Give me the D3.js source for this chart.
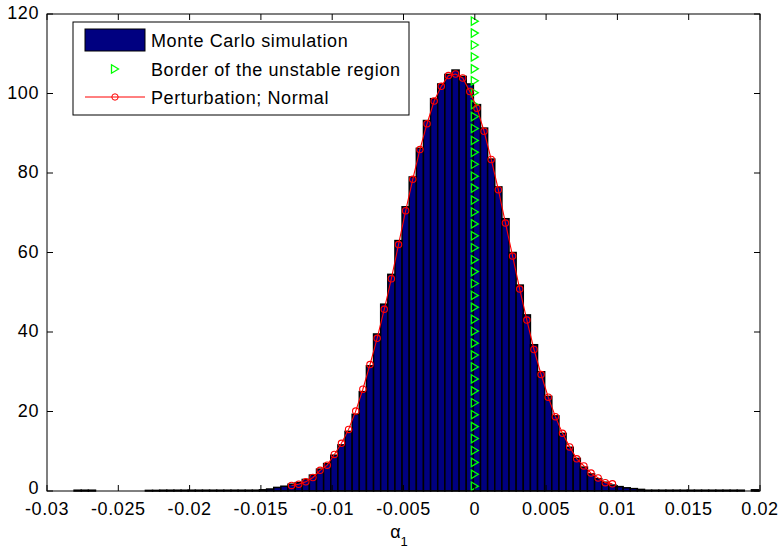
<!DOCTYPE html>
<html>
<head>
<meta charset="utf-8">
<script src="https://cdn.jsdelivr.net/npm/d3@7/dist/d3.min.js"></script>
<style>
  body { margin: 0; background: #fff; }
  text { font-family: "Liberation Sans", Arial, Helvetica, sans-serif; }
</style>
</head>
<body>
<svg id="chart" width="779" height="550"></svg>
<script>
// Histogram bins: width and centre of the first bin (-0.02785)
const binWidth = 0.0005;
const firstBinCenter = -0.02785;

// Monte Carlo histogram heights (probability density), one per bin
const mcDensity = [
  0.2, 0.2, 0.2, 0, 0, 0, 0, 0, 0, 0,
  0.15, 0.15, 0.2, 0.2, 0.2, 0.2, 0.2, 0.2, 0.2, 0.2,
  0.2, 0.2, 0.2, 0.2, 0.2, 0.2, 0.3, 0.5, 0.9, 1.2,
  1.7, 2.1, 2.9, 4.0, 5.5, 6.9, 9.0, 11.6, 15.0, 19.3,
  25.0, 31.5, 39.5, 47.0, 54.5, 63.0, 71.5, 79.0, 86.2, 93.2,
  98.7, 102.4, 104.8, 105.9, 104.3, 102.4, 97.2, 91.3, 83.5, 76.5,
  68.5, 60.0, 51.8, 44.3, 36.8, 30.0, 23.8, 18.9, 14.5, 11.0,
  8.2, 6.0, 4.3, 3.1, 2.2, 1.5, 1.1, 0.8, 0.6, 0.4,
  0.2, 0.2, 0.2, 0.2, 0.2, 0.2, 0.2, 0.2, 0.2, 0.2,
  0.2, 0.2, 0.2, 0.2, 0, 0.3
];

// Perturbation method (normal) density, evaluated at bins from -0.01285
const perturbStart = -0.01285;
const perturbDensity = [
  1.4, 1.7, 2.3, 3.4, 5.2, 6.5, 9.2, 12.0, 15.5, 20.1,
  25.6, 31.8, 38.4, 45.7, 53.4, 62.0, 70.5, 78.4, 85.9, 92.4,
  98.1, 101.8, 104.5, 104.9, 103.9, 100.5, 96.3, 90.5, 83.4, 75.8,
  67.4, 59.1, 50.8, 43.0, 35.6, 29.3, 23.6, 18.7, 14.5, 11.1,
  8.1, 6.3, 4.5, 3.3, 2.1, 1.8
];

// Border of the unstable region: alpha_1 = 0, marked along the y range
const borderAlpha = 0;
const borderLevels = [
  1.2, 4.2, 7.2, 10.2, 13.2, 16.2, 19.2, 22.2, 25.2, 28.2,
  31.2, 34.2, 37.2, 40.2, 43.2, 46.2, 49.2, 52.2, 55.2, 58.2,
  61.2, 64.2, 67.2, 70.2, 73.2, 76.2, 79.2, 82.2, 85.2, 88.2,
  91.2, 94.2, 97.2, 100.2, 103.2, 106.2, 109.2, 112.2, 115.2, 118.2
];

// Axis ticks and labels
const xTicks = [-0.03, -0.025, -0.02, -0.015, -0.01, -0.005, 0, 0.005, 0.01, 0.015, 0.02];
const xTickLabels = ["-0.03", "-0.025", "-0.02", "-0.015", "-0.01", "-0.005", "0", "0.005", "0.01", "0.015", "0.02"];
const yTicks = [0, 20, 40, 60, 80, 100, 120];
const yTickLabels = ["0", "20", "40", "60", "80", "100", "120"];

const legendLabels = ["Monte Carlo simulation", "Border of the unstable region", "Perturbation; Normal"];

const svg = d3.select("#chart");
const plot = { left: 47, right: 760, top: 14, bottom: 491 };

const x = d3.scaleLinear().domain([-0.03, 0.02]).range([plot.left, plot.right]);
const y = d3.scaleLinear().domain([0, 120]).range([plot.bottom, plot.top]);

const bins = mcDensity.map((v, i) => ({ c: firstBinCenter + i * binWidth, v }));
const curve = perturbDensity.map((v, i) => ({ c: perturbStart + i * binWidth, v }));

// Histogram bars
svg.append("g")
  .selectAll("rect")
  .data(bins.filter(d => d.v > 0))
  .join("rect")
  .attr("x", d => x(d.c - binWidth / 2))
  .attr("width", d => x(d.c + binWidth / 2) - x(d.c - binWidth / 2))
  .attr("y", d => y(d.v))
  .attr("height", d => y(0) - y(d.v))
  .attr("fill", "#000080")
  .attr("stroke", "#000")
  .attr("stroke-width", 1.5);

// Right-pointing triangle marker path centred on (0,0)
const tri = s => `M${-s * 0.5},${-s * 0.6}L${s * 0.5},0L${-s * 0.5},${s * 0.6}Z`;

// Unstable-region border markers
svg.append("g")
  .selectAll("path")
  .data(borderLevels)
  .join("path")
  .attr("transform", d => `translate(${x(borderAlpha)},${y(d)})`)
  .attr("d", tri(7))
  .attr("fill", "none")
  .attr("stroke", "#00ff00")
  .attr("stroke-width", 1.3);

// Perturbation curve with circle markers
const line = d3.line().x(d => x(d.c)).y(d => y(d.v));
svg.append("path")
  .datum(curve)
  .attr("d", line)
  .attr("fill", "none")
  .attr("stroke", "#ff0000")
  .attr("stroke-width", 1.1);
svg.append("g")
  .selectAll("circle")
  .data(curve)
  .join("circle")
  .attr("cx", d => x(d.c))
  .attr("cy", d => y(d.v))
  .attr("r", 3.2)
  .attr("fill", "none")
  .attr("stroke", "#ff0000")
  .attr("stroke-width", 1.1);

// Axes box with inward ticks on all four sides
const axisG = svg.append("g");
axisG.append("rect")
  .attr("x", plot.left).attr("y", plot.top)
  .attr("width", plot.right - plot.left).attr("height", plot.bottom - plot.top)
  .attr("fill", "none").attr("stroke", "#000").attr("stroke-width", 1);

const tickLen = 6;
axisG.append("g").selectAll("line.xb").data(xTicks).join("line")
  .attr("x1", d => x(d)).attr("x2", d => x(d))
  .attr("y1", plot.bottom).attr("y2", plot.bottom - tickLen)
  .attr("stroke", "#000");
axisG.append("g").selectAll("line.xt").data(xTicks).join("line")
  .attr("x1", d => x(d)).attr("x2", d => x(d))
  .attr("y1", plot.top).attr("y2", plot.top + tickLen)
  .attr("stroke", "#000");
axisG.append("g").selectAll("line.yl").data(yTicks).join("line")
  .attr("x1", plot.left).attr("x2", plot.left + tickLen)
  .attr("y1", d => y(d)).attr("y2", d => y(d))
  .attr("stroke", "#000");
axisG.append("g").selectAll("line.yr").data(yTicks).join("line")
  .attr("x1", plot.right).attr("x2", plot.right - tickLen)
  .attr("y1", d => y(d)).attr("y2", d => y(d))
  .attr("stroke", "#000");

// Tick labels (the bottom y label is nudged up so it clears the x labels)
const fontSize = 18;
axisG.append("g").selectAll("text").data(xTicks).join("text")
  .attr("x", d => x(d))
  .attr("y", plot.bottom + 24)
  .attr("text-anchor", "middle")
  .attr("font-size", fontSize)
  .attr("letter-spacing", 0.6)
  .attr("fill", "#000")
  .text((d, i) => xTickLabels[i]);
axisG.append("g").selectAll("text").data(yTicks).join("text")
  .attr("x", plot.left - 8)
  .attr("y", d => y(d) + (d === 0 ? 3 : 5))
  .attr("text-anchor", "end")
  .attr("font-size", fontSize)
  .attr("letter-spacing", 0.6)
  .attr("fill", "#000")
  .text((d, i) => yTickLabels[i]);

// x-axis label: alpha with subscript 1
const xl = svg.append("text")
  .attr("x", 399).attr("y", 538)
  .attr("text-anchor", "middle")
  .attr("font-size", fontSize)
  .attr("fill", "#000");
xl.append("tspan").text("α");
xl.append("tspan").attr("font-size", 13).attr("dy", 8).text("1");

// Legend
const lg = svg.append("g");
lg.append("rect")
  .attr("x", 73).attr("y", 22).attr("width", 336).attr("height", 93)
  .attr("fill", "#fff").attr("stroke", "#000").attr("stroke-width", 1);
const rowY = [40, 69, 97];
lg.append("rect")
  .attr("x", 85).attr("y", 29).attr("width", 60).attr("height", 22)
  .attr("fill", "#000080").attr("stroke", "#000");
lg.append("path")
  .attr("transform", `translate(115,${rowY[1]})`)
  .attr("d", tri(7))
  .attr("fill", "none").attr("stroke", "#00ff00").attr("stroke-width", 1.3);
lg.append("line")
  .attr("x1", 85).attr("x2", 145).attr("y1", rowY[2]).attr("y2", rowY[2])
  .attr("stroke", "#ff0000");
lg.append("circle")
  .attr("cx", 115).attr("cy", rowY[2]).attr("r", 3.2)
  .attr("fill", "none").attr("stroke", "#ff0000");
lg.selectAll("text.item").data(legendLabels).join("text")
  .attr("x", 151)
  .attr("y", (d, i) => rowY[i] + 7)
  .attr("font-size", fontSize)
  .attr("letter-spacing", 0.6)
  .attr("fill", "#000")
  .text(d => d);
</script>
</body>
</html>
